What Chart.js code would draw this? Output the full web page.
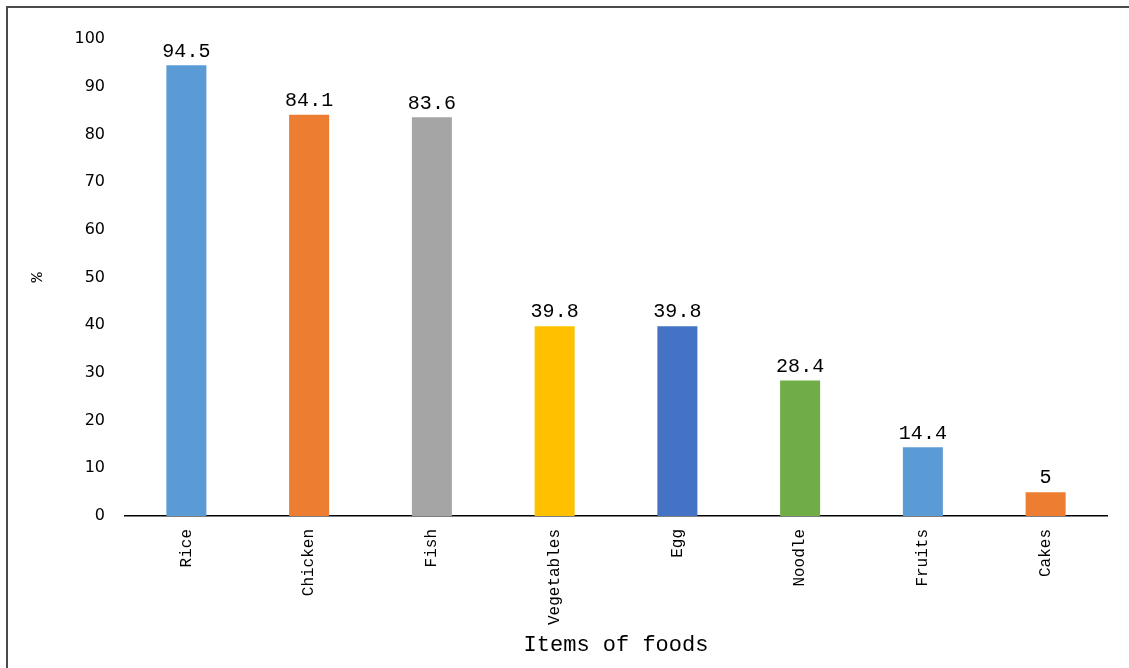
<!DOCTYPE html>
<html>
<head>
<meta charset="utf-8">
<script src="https://cdn.jsdelivr.net/npm/chart.js@4"></script>
<style>
  html, body { margin: 0; padding: 0; background: #fff; }
  #wrap { width: 1129px; height: 668px; position: relative; }
</style>
</head>
<body>
<div id="wrap"><canvas id="chart"></canvas></div>
<script>
// Dados do gráfico
const categories = ['Rice', 'Chicken', 'Fish', 'Vegetables', 'Egg', 'Noodle', 'Fruits', 'Cakes'];
const percentValues = [94.5, 84.1, 83.6, 39.8, 39.8, 28.4, 14.4, 5];
const barColors = ['#5B9BD5', '#ED7D31', '#A5A5A5', '#FFC000', '#4472C4', '#70AD47', '#5B9BD5', '#ED7D31'];
const yTicks = [0, 10, 20, 30, 40, 50, 60, 70, 80, 90, 100];

// Moldura (bordas esquerda e superior)
const framePlugin = {
  id: 'frame',
  beforeDraw(chart) {
    const ctx = chart.ctx;
    ctx.save();
    ctx.fillStyle = '#fff';
    ctx.fillRect(0, 0, chart.width, chart.height);
    ctx.strokeStyle = '#4a4a4a';
    ctx.lineWidth = 2;
    ctx.beginPath();
    ctx.moveTo(7, chart.height);
    ctx.lineTo(7, 7);
    ctx.lineTo(chart.width, 7);
    ctx.stroke();
    ctx.restore();
  }
};

// Rótulos de valor acima das barras
const valueLabels = {
  id: 'valueLabels',
  afterDatasetsDraw(chart) {
    const ctx = chart.ctx;
    const meta = chart.getDatasetMeta(0);
    ctx.save();
    ctx.font = '20px "Liberation Mono"';
    ctx.fillStyle = '#000';
    ctx.textAlign = 'center';
    ctx.textBaseline = 'bottom';
    meta.data.forEach((bar, i) => {
      ctx.fillText(String(percentValues[i]), bar.x, bar.y - 4);
    });
    ctx.restore();
  }
};

new Chart(document.getElementById('chart'), {
  type: 'bar',
  data: {
    labels: categories,
    datasets: [{
      data: percentValues,
      backgroundColor: barColors,
      barPercentage: 0.326,
      categoryPercentage: 1
    }]
  },
  options: {
    responsive: true,
    maintainAspectRatio: false,
    animation: false,
    layout: { padding: { top: 39, right: 22, left: 0, bottom: 0 } },
    plugins: { legend: { display: false }, tooltip: { enabled: false } },
    scales: {
      x: {
        grid: { display: false, drawTicks: false },
        border: { display: true, color: '#000', width: 1.5 },
        ticks: {
          color: '#000',
          font: { family: 'Liberation Mono', size: 16 },
          minRotation: 90,
          maxRotation: 90,
          padding: 13
        },
        title: {
          display: true,
          text: 'Items of foods',
          color: '#000',
          font: { family: 'Liberation Mono', size: 22 },
          padding: { top: 0, bottom: 10 }
        },
        afterFit(scale) { scale.height = 152; }
      },
      y: {
        min: 0,
        max: 100,
        afterBuildTicks(scale) { scale.ticks = yTicks.map(v => ({ value: v })); },
        grid: { display: false, drawTicks: false },
        border: { display: false },
        ticks: {
          color: '#000',
          font: { family: 'DejaVu Sans', size: 16 },
          padding: 20
        },
        title: {
          display: true,
          text: '%',
          color: '#000',
          font: { family: 'Liberation Mono', size: 17 },
          padding: { top: 27, bottom: 0 }
        },
        afterFit(scale) { scale.width = 125; }
      }
    }
  },
  plugins: [framePlugin, valueLabels]
});
</script>
</body>
</html>
